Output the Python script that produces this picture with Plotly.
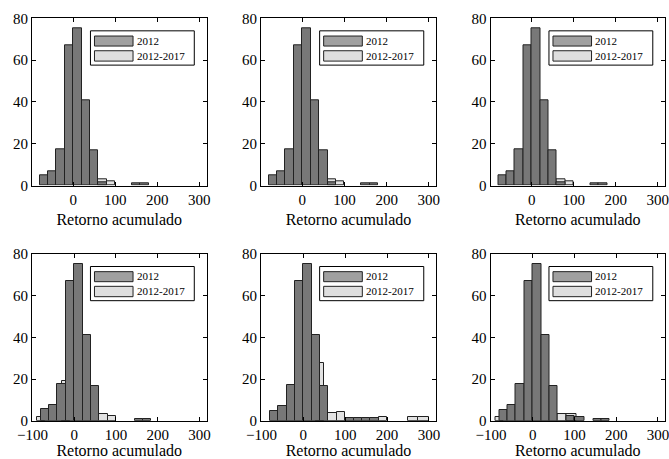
import plotly.graph_objects as go
from plotly.subplots import make_subplots

# ---------------- data ----------------
SERIES_A = "2012"
SERIES_B = "2012-2017"
X_TITLE = "Retorno acumulado"
X_TICKS = [-100, 0, 100, 200, 300]
Y_TICKS = [0, 20, 40, 60, 80]

# Panel 1 (top left)
P1_A_LEFT = [-80, -60, -40, -20, 0, 20, 40, 60, 140, 160]
P1_A_WIDTH = [20, 20, 20, 20, 20, 20, 20, 20, 20, 20]
P1_A_COUNT = [5, 7, 17.5, 67, 75, 41, 16.7, 1.5, 1, 1]
P1_B_LEFT = [60, 80]
P1_B_WIDTH = [20, 20]
P1_B_COUNT = [3, 2]

# Panel 2 (top middle)
P2_A_LEFT = [-80, -60, -40, -20, 0, 20, 40, 60, 140, 160]
P2_A_WIDTH = [20, 20, 20, 20, 20, 20, 20, 20, 20, 20]
P2_A_COUNT = [5, 7, 17.5, 67, 75, 41, 16.7, 1.5, 1, 1]
P2_B_LEFT = [60, 80]
P2_B_WIDTH = [20, 20]
P2_B_COUNT = [3, 2]

# Panel 3 (top right)
P3_A_LEFT = [-80, -60, -40, -20, 0, 20, 40, 60, 140, 160]
P3_A_WIDTH = [20, 20, 20, 20, 20, 20, 20, 20, 20, 20]
P3_A_COUNT = [5, 7, 17.5, 67, 75, 41, 16.7, 1.5, 1, 1]
P3_B_LEFT = [60, 80]
P3_B_WIDTH = [20, 20]
P3_B_COUNT = [3, 2]

# Panel 4 (bottom left)
P4_A_LEFT = [-80, -60, -40, -20, 0, 20, 40, 145, 165]
P4_A_WIDTH = [20, 20, 20, 20, 20, 20, 20, 20, 20]
P4_A_COUNT = [5.4, 7.5, 17.4, 67, 75, 41, 16.6, 1, 1]
P4_B_LEFT = [-90, -30, 60, 80]
P4_B_WIDTH = [20, 20, 20, 20]
P4_B_COUNT = [2, 19, 3.2, 2.2]

# Panel 5 (bottom middle)
P5_A_LEFT = [-80, -60, -40, -20, 0, 20, 40, 100, 120, 140, 160]
P5_A_WIDTH = [20, 20, 20, 20, 20, 20, 20, 20, 20, 20, 20]
P5_A_COUNT = [4.8, 6.9, 17.3, 67, 75, 41, 16.5, 1.2, 1.2, 1.2, 1.2]
P5_B_LEFT = [30, 60, 80, 180, 250, 275]
P5_B_WIDTH = [20, 20, 20, 20, 25, 25]
P5_B_COUNT = [27.5, 3.5, 4.2, 2, 1.6, 1.6]

# Panel 6 (bottom right)
P6_A_LEFT = [-80, -60, -40, -20, 0, 20, 40, 80, 100, 145, 165]
P6_A_WIDTH = [20, 20, 20, 20, 20, 20, 20, 20, 25, 20, 20]
P6_A_COUNT = [5.3, 7.4, 17.4, 67, 75, 41, 16.5, 2.2, 1.8, 1, 1]
P6_B_LEFT = [-90, 60, 80]
P6_B_WIDTH = [20, 20, 25]
P6_B_COUNT = [1.6, 3.2, 3.2]

PANELS = [
    (P1_A_LEFT, P1_A_WIDTH, P1_A_COUNT, P1_B_LEFT, P1_B_WIDTH, P1_B_COUNT),
    (P2_A_LEFT, P2_A_WIDTH, P2_A_COUNT, P2_B_LEFT, P2_B_WIDTH, P2_B_COUNT),
    (P3_A_LEFT, P3_A_WIDTH, P3_A_COUNT, P3_B_LEFT, P3_B_WIDTH, P3_B_COUNT),
    (P4_A_LEFT, P4_A_WIDTH, P4_A_COUNT, P4_B_LEFT, P4_B_WIDTH, P4_B_COUNT),
    (P5_A_LEFT, P5_A_WIDTH, P5_A_COUNT, P5_B_LEFT, P5_B_WIDTH, P5_B_COUNT),
    (P6_A_LEFT, P6_A_WIDTH, P6_A_COUNT, P6_B_LEFT, P6_B_WIDTH, P6_B_COUNT),
]

# ---------------- style ----------------
FONT = "Liberation Serif"
DARK = "#787878"
LIGHT = "#e2e2e2"
LEG_DARK = "#a0a0a0"
LEG_LIGHT = "#dedede"
W, H = 669, 459

X_DOMAINS = [(32, 206.5), (261, 436), (490.5, 665)]
Y_DOMAINS = [(18.3, 185.5), (254, 420.7)]  # pixel top/bottom for rows

fig = make_subplots(rows=2, cols=3)

for i, (al, aw, ac, bl, bw, bc) in enumerate(PANELS):
    r, c = i // 3 + 1, i % 3 + 1
    bx = [l + w / 2 for l, w in zip(bl, bw)]
    ax_ = [l + w / 2 for l, w in zip(al, aw)]
    fig.add_trace(go.Bar(x=bx, y=bc, width=bw, marker=dict(color=LIGHT, line=dict(color="#222", width=1)),
                         showlegend=False, name=SERIES_B), row=r, col=c)
    fig.add_trace(go.Bar(x=ax_, y=ac, width=aw, marker=dict(color=DARK, line=dict(color="#222", width=1)),
                         showlegend=False, name=SERIES_A), row=r, col=c)

    idx = "" if i == 0 else str(i + 1)
    x0p, x1p = X_DOMAINS[c - 1]
    y0p, y1p = Y_DOMAINS[r - 1]
    xr = [-98, 317] if r == 1 else [-101, 317]
    fig.update_xaxes(domain=[x0p / W, x1p / W], range=xr, tickvals=X_TICKS, automargin=False,
                     ticks="inside", ticklen=4, tickcolor="black", mirror="ticks",
                     ticklabeloverflow="allow",
                     showline=True, linecolor="black", linewidth=1, showgrid=False, zeroline=False,
                     tickfont=dict(family=FONT, size=15, color="black"),
                     title=dict(text=X_TITLE, font=dict(family=FONT, size=16, color="black"), standoff=7),
                     row=r, col=c)
    fig.update_yaxes(domain=[(H - y1p) / H, (H - y0p) / H], range=[0, 80], tickvals=Y_TICKS,
                     automargin=False, ticklabeloverflow="allow",
                     ticks="inside", ticklen=4, tickcolor="black", mirror="ticks",
                     showline=True, linecolor="black", linewidth=1, showgrid=False, zeroline=False,
                     tickfont=dict(family=FONT, size=15, color="black"),
                     row=r, col=c)

    xref, yref = f"x{idx} domain", f"y{idx} domain"
    # legend box
    fig.add_shape(type="rect", xref=xref, yref=yref, x0=0.335, x1=0.93, y0=0.72, y1=0.925,
                  line=dict(color="black", width=1), fillcolor="white")
    fig.add_shape(type="rect", xref=xref, yref=yref, x0=0.358, x1=0.579, y0=0.834, y1=0.894,
                  line=dict(color="#222", width=1), fillcolor=LEG_DARK)
    fig.add_shape(type="rect", xref=xref, yref=yref, x0=0.358, x1=0.579, y0=0.744, y1=0.806,
                  line=dict(color="#222", width=1), fillcolor=LEG_LIGHT)
    fig.add_annotation(xref=xref, yref=yref, x=0.59, y=0.866, text=SERIES_A, showarrow=False,
                       xanchor="left", yanchor="middle", font=dict(family=FONT, size=11, color="black"))
    fig.add_annotation(xref=xref, yref=yref, x=0.59, y=0.776, text=SERIES_B, showarrow=False,
                       xanchor="left", yanchor="middle", font=dict(family=FONT, size=11, color="black"))

fig.update_layout(width=W, height=H, margin=dict(l=0, r=0, t=0, b=0, autoexpand=False), barmode="overlay",
                  bargap=0, plot_bgcolor="white", paper_bgcolor="white",
                  font=dict(family=FONT, color="black"), showlegend=False)

fig.write_html("out.html", config={"displayModeBar": False},
               post_script="document.body.style.margin='0';document.body.style.overflow='hidden';")
